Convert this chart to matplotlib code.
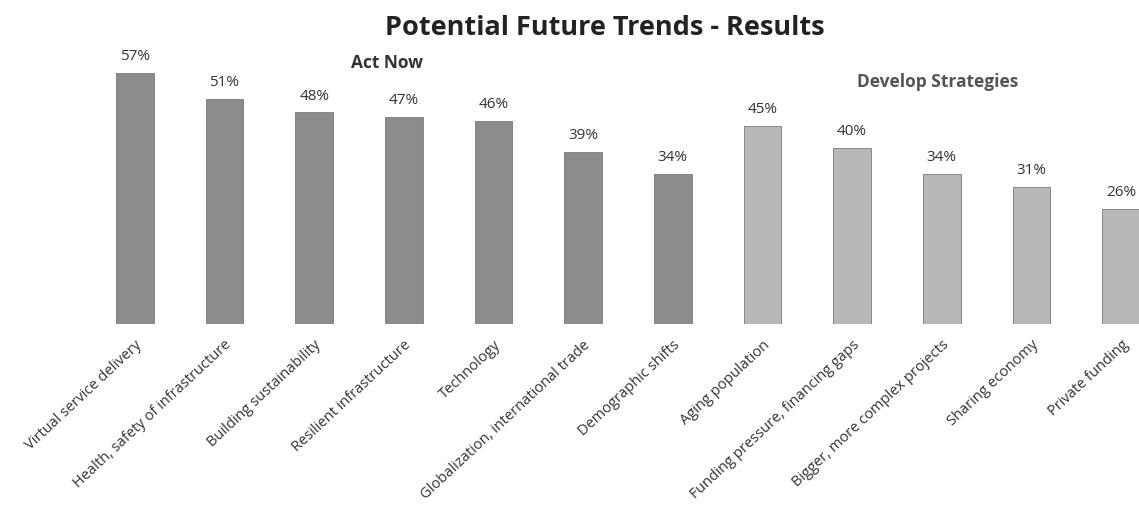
import matplotlib
matplotlib.use("Agg")
import matplotlib.pyplot as plt

categories = ["Virtual service delivery", "Health, safety of infrastructure",
              "Building sustainability", "Resilient infrastructure", "Technology",
              "Globalization, international trade", "Demographic shifts",
              "Aging population", "Funding pressure, financing gaps",
              "Bigger, more complex projects", "Sharing economy", "Private funding"]
values = [57, 51, 48, 47, 46, 39, 34, 45, 40, 34, 31, 26]
groups = ["Act Now"] * 7 + ["Develop Strategies"] * 5
group_colors = {"Act Now": "#8c8c8c", "Develop Strategies": "#b8b8b8"}

plt.rcParams['font.family'] = ['Open Sans', 'DejaVu Sans']
fig = plt.figure(figsize=(11.39, 5.18), dpi=100)
ax = fig.add_axes([90/1139, 0.375, 1 - 90/1139, 0.51])

x = list(range(len(categories)))
colors = [group_colors[g] for g in groups]
ax.bar(x, values, width=0.42, color=colors, edgecolor="#7a7a7a", linewidth=0.6)
for xi, v in zip(x, values):
    ax.text(xi, v + 2.0, f"{v}%", ha="center", va="bottom", fontsize=11,
            color="#333333", clip_on=False)

ax.set_xlim(-0.5, 11.2)
ax.set_ylim(0, 60)
ax.set_xticks(x)
ax.set_xticklabels(categories, rotation=43, ha="right", rotation_mode="anchor",
                   fontsize=10.5, color="#333333")
ax.tick_params(axis="x", length=0, pad=10)
ax.set_yticks([])
for s in ax.spines.values():
    s.set_visible(False)

fig.text(0.531, 0.945, "Potential Future Trends - Results", ha="center", va="center",
         fontsize=19.5, fontweight="bold", color="#222222")
fig.text(0.340, 0.878, "Act Now", ha="center", va="center", fontsize=12.5,
         fontweight="bold", color="#333333")
fig.text(0.823, 0.842, "Develop Strategies", ha="center", va="center", fontsize=12.5,
         fontweight="bold", color="#555555")

fig.savefig("out.png", dpi=100, facecolor="white")
